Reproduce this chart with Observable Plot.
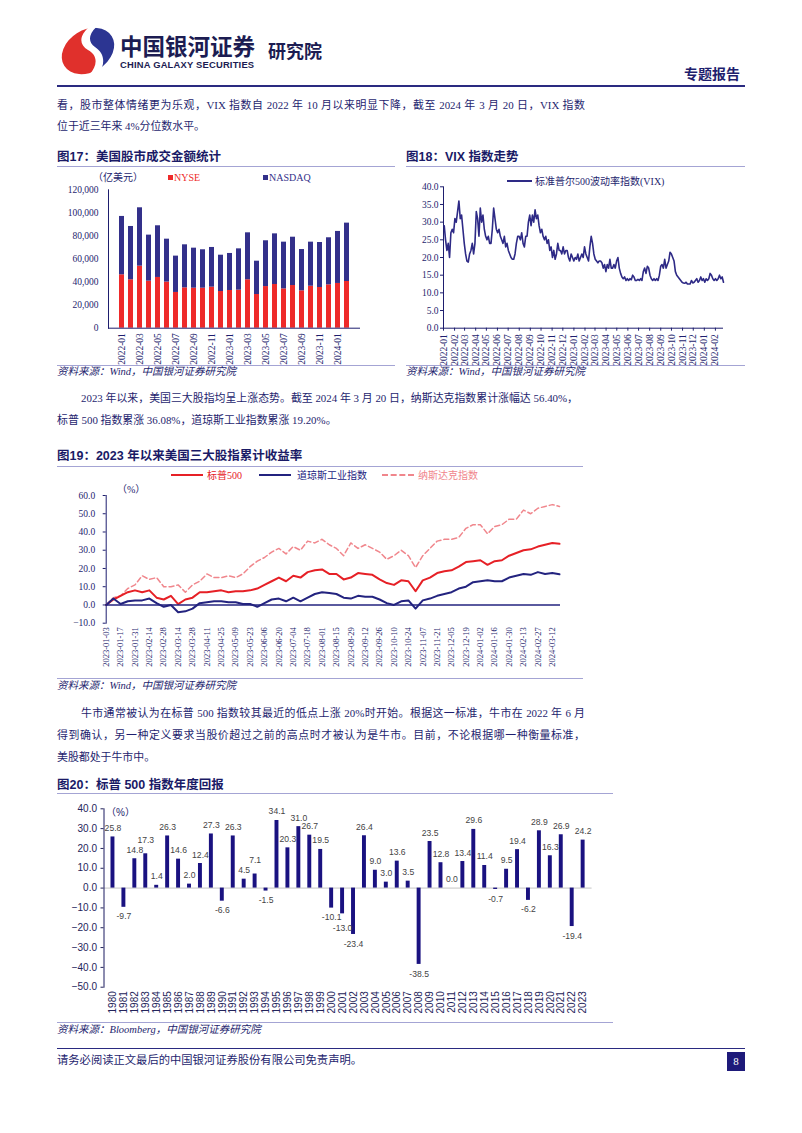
<!DOCTYPE html>
<html><head><meta charset="utf-8">
<script src="https://cdn.jsdelivr.net/npm/d3@7"></script>
<script src="https://cdn.jsdelivr.net/npm/@observablehq/plot@0.6"></script>
<style>
body{margin:0;background:#fff}
#page{position:relative;width:802px;height:1133px;overflow:hidden;background:#fff;color:#1e1e6e;font-family:"Liberation Serif","Noto Sans CJK SC",serif}
.abs{position:absolute;white-space:nowrap}
.p{font-size:10.9px;line-height:21px;height:21px}
.j{text-align:justify;text-align-last:justify}
.ttl{font-weight:bold;font-size:12.5px;line-height:16px;font-family:"Liberation Sans","Noto Sans CJK SC",sans-serif;color:#1a1a66}
.src{font-style:italic;font-size:10.5px;line-height:14px}
.hr{position:absolute;height:0;border-top:1px solid #a4a4d4}
.lg{font-size:10px;line-height:14px}
</style></head><body><div id="page">

<svg class="abs" style="left:0;top:0" width="130" height="85">
  <defs><clipPath id="lc"><ellipse cx="88" cy="51" rx="28" ry="21" transform="rotate(-32 88 51)"/></clipPath></defs>
  <g clip-path="url(#lc)">
    <path d="M40,18 L102,18 C80,30 76,43 88,50 C99,56 99,68 82,82 L40,82 Z" fill="#e0302c"/>
    <path d="M110,18 L134,18 L134,82 L91,82 C106,69 107,55 95,47 C86,41 88,29 110,18 Z" fill="#2c3592"/>
  </g>
</svg>
<div class="abs" style="left:120px;top:34px;font:bold 22.5px/22px 'Noto Sans CJK SC',sans-serif;color:#1c1c52">中国银河证券</div>
<div class="abs" style="left:120px;top:60px;font:bold 9.4px/10px 'Liberation Sans',sans-serif;color:#1c1c52;letter-spacing:0.2px">CHINA GALAXY SECURITIES</div>
<div class="abs" style="left:268px;top:40px;font:bold 18px/20px 'Noto Sans CJK SC',sans-serif;color:#1c1c52">研究院</div>
<div class="abs" style="left:684px;top:64px;font:bold 14px/18px 'Noto Sans CJK SC',sans-serif;color:#1e1e6e">专题报告</div>
<div class="abs" style="left:57px;top:85px;width:688px;height:2px;background:#2a2a80"></div>

<div class="abs p j" style="left:57px;top:94.5px;width:528px">看，股市整体情绪更为乐观，VIX 指数自 2022 年 10 月以来明显下降，截至 2024 年 3 月 20 日，VIX 指数</div>
<div class="abs p" style="left:57px;top:115.5px">位于近三年来 4%分位数水平。</div>

<div class="abs ttl" style="left:57px;top:149px">图17：美国股市成交金额统计</div>
<div class="hr" style="left:57px;top:166px;width:338px"></div>
<div class="abs ttl" style="left:406px;top:149px">图18：VIX 指数走势</div>
<div class="hr" style="left:406px;top:166px;width:339px"></div>

<div class="abs lg" style="left:93px;top:171px">（亿美元）</div>
<div class="abs lg" style="left:168px;top:171px;color:#ee2a2a"><span style="display:inline-block;width:5px;height:5px;background:#ee2a2a;margin-right:1px;vertical-align:1px"></span>NYSE</div>
<div class="abs lg" style="left:263px;top:171px;color:#33308a"><span style="display:inline-block;width:5px;height:5px;background:#33308a;margin-right:1px;vertical-align:1px"></span>NASDAQ</div>
<div class="abs lg" style="left:507px;top:175px"><span style="display:inline-block;width:25px;border-top:2px solid #2e2a86;vertical-align:3px;margin-right:3px"></span>标准普尔500波动率指数(VIX)</div>

<div class="hr" style="left:57px;top:365px;width:338px"></div>
<div class="hr" style="left:406px;top:365px;width:339px"></div>
<div class="abs src" style="left:57px;top:365px">资料来源：Wind，中国银河证券研究院</div>
<div class="abs src" style="left:406px;top:365px">资料来源：Wind，中国银河证券研究院</div>

<div class="abs p j" style="left:81px;top:387.5px;width:497px">2023 年以来，美国三大股指均呈上涨态势。截至 2024 年 3 月 20 日，纳斯达克指数累计涨幅达 56.40%，</div>
<div class="abs p" style="left:57px;top:409.5px">标普 500 指数累涨 36.08%，道琼斯工业指数累涨 19.20%。</div>

<div class="abs ttl" style="left:57px;top:448px">图19：2023 年以来美国三大股指累计收益率</div>
<div class="hr" style="left:57px;top:466px;width:526px"></div>
<div class="abs lg" style="left:171px;top:469px;color:#e62026"><span style="display:inline-block;width:32px;border-top:2px solid #e62026;vertical-align:3px;margin-right:4px"></span>标普500</div>
<div class="abs lg" style="left:259px;top:469px;color:#23237f"><span style="display:inline-block;width:32px;border-top:2px solid #23237f;vertical-align:3px;margin-right:6px"></span>道琼斯工业指数</div>
<div class="abs lg" style="left:382px;top:469px;color:#f0868c"><span style="display:inline-block;width:32px;border-top:2px dashed #f0868c;vertical-align:3px;margin-right:4px"></span>纳斯达克指数</div>
<div class="abs lg" style="left:117px;top:483px">（%）</div>

<div class="hr" style="left:57px;top:678px;width:526px"></div>
<div class="abs src" style="left:57px;top:679px">资料来源：Wind，中国银河证券研究院</div>

<div class="abs p j" style="left:81px;top:702.5px;width:504px">牛市通常被认为在标普 500 指数较其最近的低点上涨 20%时开始。根据这一标准，牛市在 2022 年 6 月</div>
<div class="abs p j" style="left:57px;top:724.5px;width:528px">得到确认，另一种定义要求当股价超过之前的高点时才被认为是牛市。目前，不论根据哪一种衡量标准，</div>
<div class="abs p" style="left:57px;top:746.5px">美股都处于牛市中。</div>

<div class="abs ttl" style="left:57px;top:777px">图20：标普 500 指数年度回报</div>
<div class="hr" style="left:57px;top:793px;width:556px"></div>
<div class="abs lg" style="left:106px;top:806px;font-family:'Liberation Sans','Noto Sans CJK SC',sans-serif">（%）</div>

<div class="hr" style="left:57px;top:1022px;width:556px"></div>
<div class="abs src" style="left:57px;top:1023px">资料来源：Bloomberg，中国银河证券研究院</div>

<div class="abs" style="left:57px;top:1048px;width:688px;height:0;border-top:1.5px solid #2a2a80"></div>
<div class="abs" style="left:57px;top:1053px;font-size:11.3px;line-height:15px">请务必阅读正文最后的中国银河证券股份有限公司免责声明。</div>
<div class="abs" style="left:727px;top:1052px;width:18px;height:19px;background:#1e1a7a;color:#fff;font-size:11px;line-height:19px;text-align:center">8</div>

</div>
<script>
// ---------- Figure 17: US stock market turnover (100 million USD) ----------
const f17Months = ["2022-01","2022-02","2022-03","2022-04","2022-05","2022-06","2022-07","2022-08","2022-09","2022-10","2022-11","2022-12","2023-01","2023-02","2023-03","2023-04","2023-05","2023-06","2023-07","2023-08","2023-09","2023-10","2023-11","2023-12","2024-01","2024-02"];
const f17Nyse = [46300,42000,53800,40800,44000,40000,31000,35000,34700,34700,35600,31800,32700,33000,42000,29200,36100,37900,34100,37000,32400,36400,35300,37600,38800,40500];
const f17Nasdaq = [50600,46200,50600,39900,44800,37200,31500,37300,34700,33300,34400,31500,32100,35800,40700,28900,39700,43900,40500,41900,35800,38200,39000,40800,45100,50600];
const f17Series = ["NYSE","NASDAQ"];
const f17YTicks = [0,20000,40000,60000,80000,100000,120000];

// ---------- Figure 18: VIX ----------
const vixStart = "2022-01-03";
const vixStepDays = 3.74;
const vixValues = [29,25,22,24,20,27,28,27,31,30,33,36,31,32,28,24,21,19,18.7,21,22,24,21,24,33,31,26,34,30,32,28,26,25,26,24,24,28,34,31,28,27,28,26,25,24,26,23,24,22,21,20,19.5,19.5,21,24,26,26,25,27,24,23,26,26,30,32,29,32,30,33.5,31,32,29,27,28,26,25,26,24,25,22,23,20,22,19.5,21,24,22,22,21,23,21,22,22,20,19,21,20,19,20,19.5,21,19,20,21,20,23,21,20,19,23,26,24,21,19.5,19,18.5,19,19,18.5,17,18,16,18,17,19.5,17,17,18,17,19,20,17,15.5,14.5,14,14.5,13.5,14,13.5,14,13.7,15,14.5,13.5,13.5,13.8,13.5,14,13.5,16,17,15.5,17.5,17,15,14,13.5,14,13.5,14,13.5,15,17.5,18,17,19.5,17,18,19,21.5,21,20,19,16,15,14.5,14,13.5,13,12.8,12.7,13,12.5,12.5,12.5,13.5,12.8,13,13.5,14,13,13.5,14.5,13.5,14,13,14,13.5,14,15.5,15,14,13.5,14,13.5,14,15,14,14.5,13];
const vixMonths = ["2022-01","2022-02","2022-03","2022-04","2022-05","2022-06","2022-07","2022-08","2022-09","2022-10","2022-11","2022-12","2023-01","2023-02","2023-03","2023-04","2023-05","2023-06","2023-07","2023-08","2023-09","2023-10","2023-11","2023-12","2024-01","2024-02"];
const vixYTicks = [0,5,10,15,20,25,30,35,40];

// ---------- Figure 19: cumulative return since 2023 (%) ----------
const f19Start = "2023-01-03";
const f19End = "2024-03-20";
const f19SP500 = [0,3,5,7,8,7,8,4,3,5,0.5,3,4,7,7,7.5,8,7,7.5,7.5,8,9,11,13,15,13,16,15,18,19,19.5,17,17,14,15,17.5,17,16.5,14,12,11,13.5,13,7.5,13.5,15,17.5,18.5,19,21,23.5,24,24.5,22,24,24.5,27,28.5,30,30.5,32,33,34,33.5];
const f19Dow = [0,3.5,0.5,2,2.5,2.5,3.5,1,-1,0,-4,-3.5,-2,1,1.5,2,2,1.5,1.5,0.5,0.5,-1,1,3,3.5,2,4,2,4,6,7,6.5,6,4,3.5,5,4.5,4.5,3,1,0,2,2.5,-2,2.5,3.5,5,6,7,9,10,12.5,13,13.5,13,13,15,16,17,16.5,18,17,17.5,16.8];
const f19Nasdaq = [0,4,5,9,11,16,14,15,10,10,11,7,11,13,17,15,15,16,15,17,21,24,26,29,31,28,32,30,35,34,36,33,31,27,34,31,33,31,29,25,27,30,27,20.5,27,31,35,36,36,37,42,44,44,39,43,44,47,47,52,50,53,54,55,54];
const f19Names = ["标普500","道琼斯工业指数","纳斯达克指数"];
const f19Ticks = ["2023-01-03","2023-01-17","2023-01-31","2023-02-14","2023-02-28","2023-03-14","2023-03-28","2023-04-11","2023-04-25","2023-05-09","2023-05-23","2023-06-06","2023-06-20","2023-07-04","2023-07-18","2023-08-01","2023-08-15","2023-08-29","2023-09-12","2023-09-26","2023-10-10","2023-10-24","2023-11-07","2023-11-21","2023-12-05","2023-12-19","2024-01-02","2024-01-16","2024-01-30","2024-02-13","2024-02-27","2024-03-12"];
const f19YTicks = [-10,0,10,20,30,40,50,60];

// ---------- Figure 20: S&P 500 annual return (%) ----------
const f20Years = ["1980","1981","1982","1983","1984","1985","1986","1987","1988","1989","1990","1991","1992","1993","1994","1995","1996","1997","1998","1999","2000","2001","2002","2003","2004","2005","2006","2007","2008","2009","2010","2011","2012","2013","2014","2015","2016","2017","2018","2019","2020","2021","2022","2023"];
const f20Returns = [25.8,-9.7,14.8,17.3,1.4,26.3,14.6,2.0,12.4,27.3,-6.6,26.3,4.5,7.1,-1.5,34.1,20.3,31.0,26.7,19.5,-10.1,-13.0,-23.4,26.4,9.0,3.0,13.6,3.5,-38.5,23.5,12.8,0.0,13.4,29.6,11.4,-0.7,9.5,19.4,-6.2,28.9,16.3,26.9,-19.4,24.2];
const f20YTicks = [-50,-40,-30,-20,-10,0,10,20,30,40];

// ---------- rendering ----------
const page = document.getElementById("page");
function mount(el, left, top){el.style.position="absolute";el.style.left=left+"px";el.style.top=top+"px";page.appendChild(el);}
const NAVY = "#1e1e6e";
const serif = '"Liberation Serif","Noto Sans CJK SC",serif';
const sans = '"Liberation Sans","Noto Sans CJK SC",sans-serif';
const DAY = 86400000;

// Fig 17
const f17Rows = [];
f17Series.forEach(s => f17Months.forEach((m,i) => f17Rows.push({month:m, series:s, value:(s==="NYSE"?f17Nyse:f17Nasdaq)[i]})));
mount(Plot.plot({
  width:315,height:205,marginTop:19.3,marginBottom:47.3,marginLeft:53,marginRight:10,
  style:{fontFamily:serif,fontSize:"9.5px",color:NAVY,background:"transparent",overflow:"visible"},
  x:{domain:f17Months,padding:0.5,label:null},
  y:{domain:[0,120000],label:null},
  color:{domain:f17Series,range:["#ee2a2a","#33308a"]},
  marks:[
    Plot.barY(f17Rows,{x:"month",y:"value",fill:"series"}),
    Plot.ruleY([0],{stroke:NAVY}),
    Plot.frame({anchor:"left",stroke:NAVY}),
    Plot.axisY({ticks:f17YTicks,tickFormat:d3.format(","),tickSize:0,tickPadding:10,label:null}),
    Plot.axisX({ticks:f17Months.filter((d,i)=>i%2===0),tickRotate:-90,tickSize:0,tickPadding:5,label:null})
  ]
}),55,170);

// Fig 18
const vixT0 = Date.parse(vixStart+"T00:00Z");
const vixData = vixValues.map((v,i)=>({date:new Date(vixT0 + i*vixStepDays*DAY), v}));
mount(Plot.plot({
  width:345,height:205,marginTop:16.3,marginBottom:47.3,marginLeft:43,marginRight:22,
  style:{fontFamily:serif,fontSize:"9.5px",color:NAVY,background:"transparent",overflow:"visible"},
  x:{type:"utc",domain:[new Date(vixMonths[0]+"-01T00:00Z"), vixData[vixData.length-1].date],label:null},
  y:{domain:[0,40],label:null},
  marks:[
    Plot.ruleY([0],{stroke:NAVY}),
    Plot.frame({anchor:"left",stroke:NAVY}),
    Plot.lineY(vixData,{x:"date",y:"v",stroke:"#2e2a86",strokeWidth:1.6}),
    Plot.axisY({ticks:vixYTicks,tickFormat:d3.format(".1f"),tickSize:3,tickPadding:2,label:null}),
    Plot.axisX({ticks:vixMonths.map(s=>new Date(s+"-01T00:00Z")),tickFormat:d3.utcFormat("%Y-%m"),tickRotate:-90,tickSize:3,tickPadding:3,label:null})
  ]
}),400,170);

// Fig 19
const f19T0 = Date.parse(f19Start+"T00:00Z");
const f19Rows = [];
[f19SP500,f19Dow,f19Nasdaq].forEach((arr,s)=>arr.forEach((v,i)=>f19Rows.push({name:f19Names[s], date:new Date(f19T0 + i*7*DAY), v})));
mount(Plot.plot({
  width:540,height:195,marginTop:15,marginBottom:52.3,marginLeft:50.7,marginRight:35,
  style:{fontFamily:serif,fontSize:"9.5px",color:NAVY,background:"transparent",overflow:"visible"},
  x:{type:"utc",domain:[new Date(f19Start+"T00:00Z"),new Date(f19End+"T00:00Z")],label:null},
  y:{domain:[-10,60],label:null},
  marks:[
    Plot.frame({anchor:"left",stroke:NAVY}),
    Plot.lineY(f19Rows.filter(d=>d.name===f19Names[2]),{x:"date",y:"v",stroke:"#f0868c",strokeWidth:1.5,strokeDasharray:"5,3"}),
    Plot.lineY(f19Rows.filter(d=>d.name===f19Names[0]),{x:"date",y:"v",stroke:"#e62026",strokeWidth:2}),
    Plot.ruleY([0],{stroke:"#23237f",strokeWidth:1.5}),
    Plot.lineY(f19Rows.filter(d=>d.name===f19Names[1]),{x:"date",y:"v",stroke:"#23237f",strokeWidth:2}),
    Plot.axisY({ticks:f19YTicks,tickFormat:d3.format(".1f"),tickSize:3,tickPadding:8,label:null}),
    Plot.axisX({ticks:f19Ticks.map(s=>new Date(s+"T00:00Z")),tickFormat:d3.utcFormat("%Y-%m-%d"),tickRotate:-90,tickSize:0,tickPadding:4,fontSize:"8.5px",label:null})
  ]
}),55,480);

// Fig 20
const f20Rows = f20Years.map((y,i)=>({year:y, v:f20Returns[i]}));
// a label that would collide with its left neighbour's label is pushed a little further from its bar
f20Rows.forEach((d,i)=>{
  const p = f20Rows[i-1];
  d.bump = !!(p && !p.bump && Math.sign(p.v)===Math.sign(d.v) && d.v!==0 && Math.abs(d.v-p.v)<4 && Math.abs(d.v)>Math.abs(p.v)-0.01);
});
const lbl = (filter, dy, anchor) => Plot.text(f20Rows.filter(filter),{x:"year",y:"v",text:d=>d.v.toFixed(1),dy,lineAnchor:anchor,fill:"#444",fontSize:8.6});
mount(Plot.plot({
  width:560,height:228,marginTop:13.3,marginBottom:36.3,marginLeft:48.5,marginRight:23.4,
  style:{fontFamily:sans,fontSize:"10px",color:"#24245a",background:"transparent",overflow:"visible"},
  x:{domain:f20Years,padding:0.64,label:null},
  y:{domain:[-50,40],label:null},
  marks:[
    Plot.ruleY([0],{stroke:"#c4c4c4"}),
    Plot.barY(f20Rows,{x:"year",y:"v",fill:"#1a1280"}),
    Plot.frame({anchor:"left",stroke:"#1a1a60"}),
    lbl(d=>d.v>=0 && !d.bump, -6, "bottom"),
    lbl(d=>d.v>=0 && d.bump, -11, "bottom"),
    lbl(d=>d.v<0 && !d.bump, 6, "top"),
    lbl(d=>d.v<0 && d.bump, 11, "top"),
    Plot.axisY({ticks:f20YTicks,tickFormat:d3.format(".1f"),tickSize:3,tickPadding:4,label:null}),
    Plot.axisX({tickRotate:-90,tickSize:0,tickPadding:4,label:null})
  ]
}),55,795);
</script>
</body></html>
